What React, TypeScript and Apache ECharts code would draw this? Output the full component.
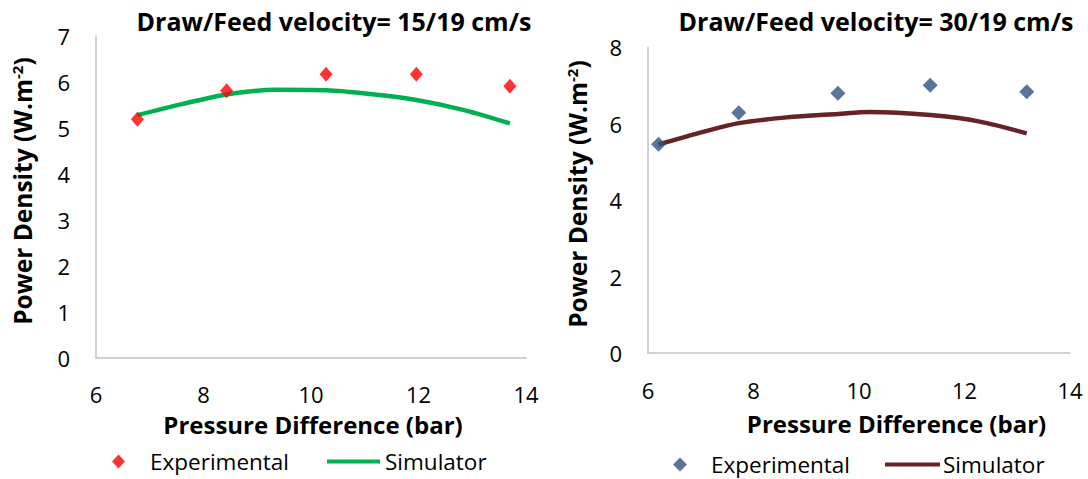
import React, { useEffect, useRef } from "react";
import * as echarts from "echarts";

const titles = ["Draw/Feed velocity= 15/19 cm/s", "Draw/Feed velocity= 30/19 cm/s"];
const xTicks = [6, 8, 10, 12, 14];
const xName = "Pressure Difference (bar)";
const seriesNames = ["Experimental", "Simulator"];

// Left chart (15/19 cm/s)
const expP15 = [6.77, 8.43, 10.28, 11.96, 13.7];
const exp15 = [5.19, 5.81, 6.17, 6.17, 5.91];
const simP15 = [6.77, 7.6, 8.43, 9.35, 10.28, 11.1, 11.96, 12.85, 13.7];
const sim15 = [5.28, 5.52, 5.73, 5.83, 5.82, 5.74, 5.61, 5.39, 5.1];

// Right chart (30/19 cm/s)
const expP30 = [6.2, 7.72, 9.6, 11.35, 13.18];
const exp30 = [5.46, 6.28, 6.79, 7.0, 6.83];
const simP30 = [6.2, 6.99, 7.72, 8.63, 9.6, 10.2, 11.35, 12.29, 13.18];
const sim30 = [5.45, 5.76, 6.01, 6.16, 6.25, 6.3, 6.22, 6.05, 5.74];

const FONT = "Open Sans";

export default function App() {
  const ref = useRef<HTMLDivElement>(null);
  useEffect(() => {
    const chart = echarts.init(ref.current!, null, { renderer: "svg" });
    const pairs = (xs: number[], ys: number[]) => xs.map((x, i) => [x, ys[i]]);
    const axisCommon = {
      axisLine: { show: true, lineStyle: { color: "#C4C4C4", width: 1.5 } },
      axisTick: { show: false },
      splitLine: { show: false },
    };
    const yName = "{a|Power Density (W.m}{s|-2}{a|)}";
    const yNameStyle = {
      rich: {
        a: { fontFamily: FONT, fontWeight: "bold", fontSize: 24.5, lineHeight: 27, color: "#000" },
        s: { fontFamily: FONT, fontWeight: "bold", fontSize: 15, lineHeight: 27, color: "#000", verticalAlign: "top", padding: [0, 0, 8, 0] },
      },
    };
    const titleStyle = { fontFamily: FONT, fontWeight: "bold", fontSize: 25, lineHeight: 28, color: "#000" };
    const legendText = (pad: number) => ({ fontFamily: FONT, fontSize: 22.5, lineHeight: 20, color: "#000", padding: [0, 0, 0, pad] });
    const option: any = {
      animation: false,
      backgroundColor: "#fff",
      title: [
        { text: titles[0], left: 334, top: 7, textAlign: "center", textStyle: titleStyle, padding: 0 },
        { text: titles[1], left: 876, top: 7, textAlign: "center", textStyle: titleStyle, padding: 0 },
      ],
      grid: [
        { left: 96, right: 562, top: 36, bottom: 121 },
        { left: 648, right: 18, top: 47, bottom: 126 },
      ],
      legend: [
        {
          data: [{ name: seriesNames[0], icon: "diamond" }],
          left: 112, top: 450, padding: 0, itemWidth: 13, itemHeight: 14, textStyle: legendText(20),
        },
        {
          data: [{ name: seriesNames[1], icon: "rect" }],
          left: 327, top: 450, padding: 0, itemWidth: 53, itemHeight: 4, textStyle: legendText(0),
        },
        {
          data: [{ name: seriesNames[0] + " ", icon: "diamond" }],
          left: 673, top: 453, padding: 0, itemWidth: 14, itemHeight: 14, textStyle: legendText(19),
        },
        {
          data: [{ name: seriesNames[1] + " ", icon: "rect" }],
          left: 885, top: 453, padding: 0, itemWidth: 55, itemHeight: 4, textStyle: legendText(-2),
        },
      ],
      xAxis: [0, 1].map((g) => ({
        type: "value", gridIndex: g, min: xTicks[0], max: xTicks[xTicks.length - 1], interval: 2,
        ...axisCommon,
        axisLabel: { fontFamily: FONT, fontSize: 22, lineHeight: 24, color: "#000", margin: g === 0 ? 24 : 25 },
        name: xName, nameLocation: "middle", nameGap: g === 0 ? 52 : 56,
        nameTextStyle: { fontFamily: FONT, fontWeight: "bold", fontSize: 24, lineHeight: 28, color: "#000", padding: g === 1 ? [0, 0, 0, 75] : [0, 0, 0, 4] },
      })),
      yAxis: [
        {
          type: "value", gridIndex: 0, min: 0, max: 7, interval: 1, ...axisCommon,
          axisLabel: { fontFamily: FONT, fontSize: 22, color: "#000", margin: 26 },
          name: yName, nameLocation: "middle", nameGap: 60, nameTextStyle: { ...yNameStyle, padding: [0, 0, 0, 12] },
        },
        {
          type: "value", gridIndex: 1, min: 0, max: 8, interval: 2, ...axisCommon,
          axisLabel: { fontFamily: FONT, fontSize: 22, color: "#000", margin: 26 },
          name: yName, nameLocation: "middle", nameGap: 57, nameTextStyle: { ...yNameStyle, padding: [0, 0, 0, 12] },
        },
      ],
      series: [
        {
          name: seriesNames[1], type: "line", xAxisIndex: 0, yAxisIndex: 0, smooth: 0.3, showSymbol: false, symbol: "none",
          data: pairs(simP15, sim15), lineStyle: { color: "#00B050", width: 4.5 }, itemStyle: { color: "#00B050" },
        },
        {
          name: seriesNames[0], type: "scatter", xAxisIndex: 0, yAxisIndex: 0, symbol: "diamond", symbolSize: [13, 15],
          data: pairs(expP15, exp15), itemStyle: { color: "#FF0000" }, z: 5,
        },
        {
          name: seriesNames[1] + " ", type: "line", xAxisIndex: 1, yAxisIndex: 1, smooth: 0.3, showSymbol: false, symbol: "none",
          data: pairs(simP30, sim30), lineStyle: { color: "#652325", width: 4.5 }, itemStyle: { color: "#652325" },
        },
        {
          name: seriesNames[0] + " ", type: "scatter", xAxisIndex: 1, yAxisIndex: 1, symbol: "diamond", symbolSize: 15,
          data: pairs(expP30, exp30), itemStyle: { color: "#2F5283" }, z: 5,
        },
      ],
    };
    chart.setOption(option);
    return () => chart.dispose();
  }, []);
  return <div ref={ref} style={{ position: "fixed", left: 0, top: 0, width: 1088, height: 479 }} />;
}
